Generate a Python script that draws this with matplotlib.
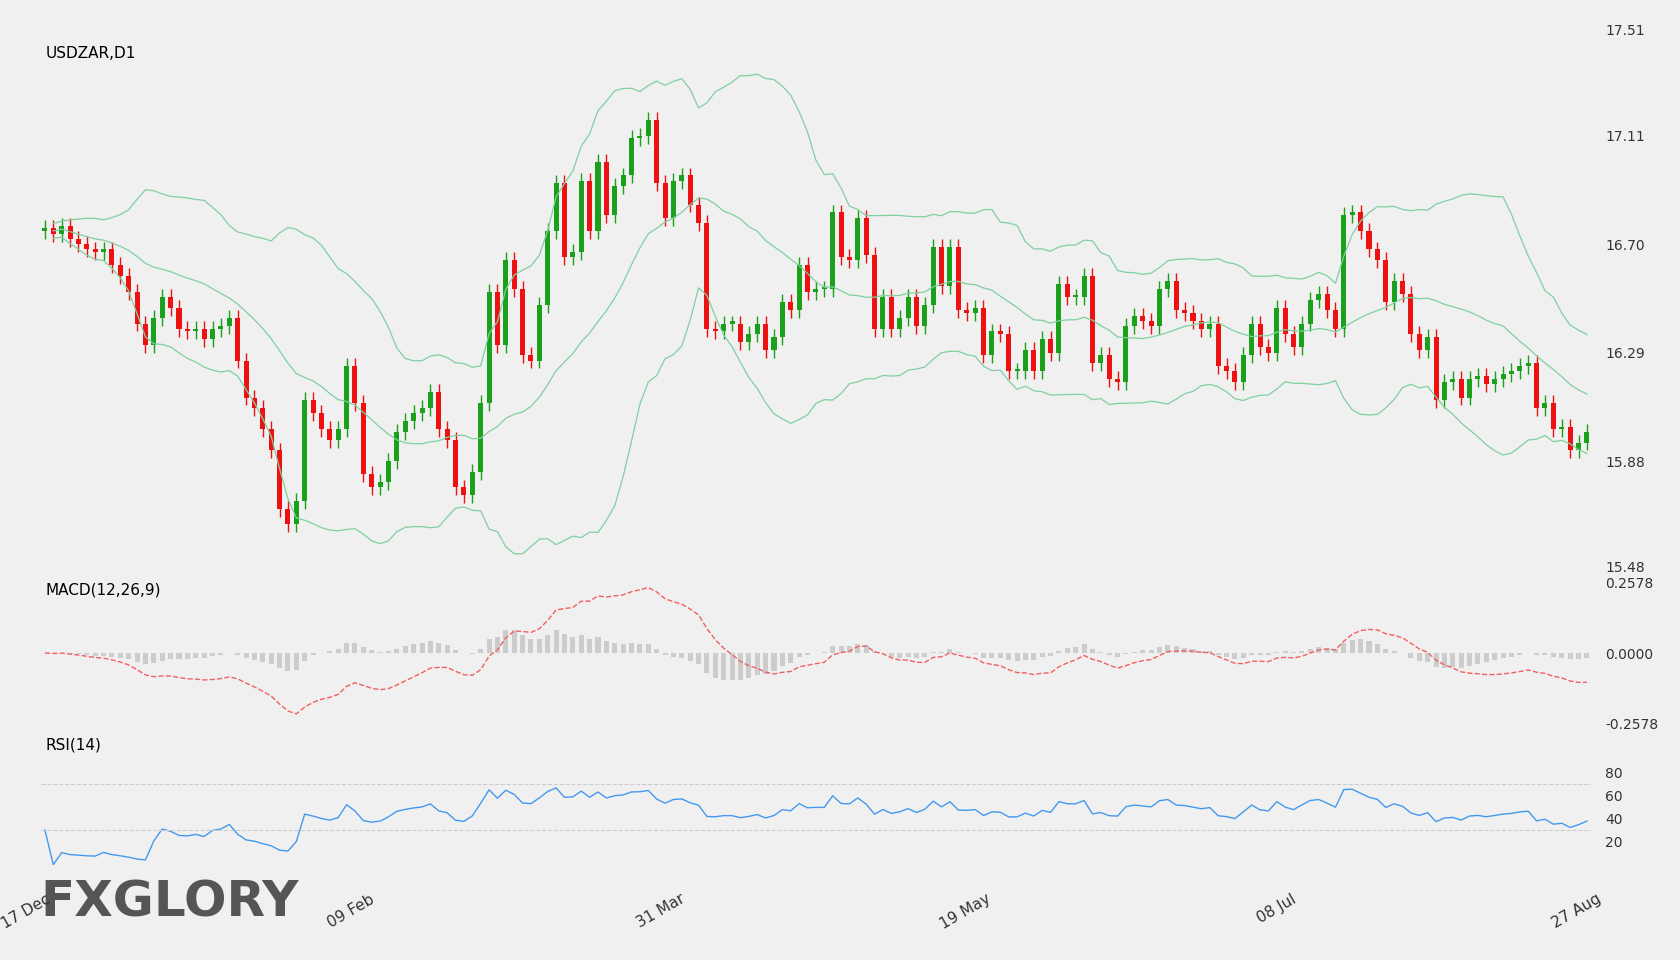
import numpy as np
import pandas as pd
import matplotlib
matplotlib.use("Agg")
import matplotlib.pyplot as plt

# daily closes, 17 Dec -> 27 Aug
closes = [16.76, 16.74, 16.77, 16.72, 16.70, 16.68, 16.67, 16.68, 16.62, 16.58, 16.52, 16.40,
          16.32, 16.42, 16.50, 16.46, 16.38, 16.37, 16.38, 16.34, 16.38, 16.39, 16.42,
          16.26, 16.12, 16.08, 16.00, 15.92, 15.70, 15.64,
          15.73, 16.11, 16.06, 16.00, 15.96, 16.00, 16.24, 16.10, 15.83, 15.78, 15.80,
          15.88, 15.99, 16.03, 16.06, 16.08, 16.14, 16.00, 15.96, 15.78, 15.75, 15.84, 16.10,
          16.52, 16.32, 16.64, 16.53, 16.28, 16.26, 16.47, 16.75, 16.93, 16.65, 16.67, 16.94,
          16.75, 17.01, 16.81, 16.92, 16.96, 17.10, 17.11, 17.17, 16.93, 16.80, 16.94, 16.96,
          16.85, 16.78, 16.38, 16.37, 16.40, 16.40, 16.33, 16.36, 16.40, 16.30, 16.35, 16.48,
          16.45, 16.62, 16.52, 16.53, 16.53, 16.82, 16.65, 16.64, 16.80, 16.66, 16.38, 16.50,
          16.38, 16.42, 16.50, 16.39, 16.47,
          16.69, 16.54, 16.69, 16.45, 16.44, 16.46, 16.28, 16.37, 16.36, 16.22, 16.22, 16.30,
          16.22, 16.34, 16.29, 16.55, 16.50, 16.50, 16.58, 16.25, 16.28, 16.19, 16.18, 16.39,
          16.43, 16.41, 16.39, 16.53, 16.56, 16.45, 16.44, 16.41, 16.38, 16.40, 16.24, 16.22,
          16.18, 16.28, 16.40, 16.31, 16.29, 16.46, 16.36, 16.31, 16.40, 16.49, 16.51, 16.45,
          16.38, 16.81, 16.82, 16.75, 16.68, 16.64, 16.48, 16.56, 16.51, 16.36, 16.30, 16.35,
          16.11, 16.18, 16.19, 16.12,
          16.19, 16.20, 16.17, 16.19, 16.21, 16.22, 16.24, 16.25, 16.08, 16.10, 16.00, 16.01,
          15.92, 15.95, 15.99]
first_open = 16.75
date_labels = ["17 Dec", "09 Feb", "31 Mar", "19 May", "08 Jul", "27 Aug"]
date_px = [38, 340, 630, 915, 1200, 1485]
price_ticks = [17.51, 17.11, 16.70, 16.29, 15.88, 15.48]

c = pd.Series(closes)
o = c.shift(1).fillna(first_open)
n = len(c)
x = np.arange(n)
hi = np.maximum(o, c) + 0.03
lo = np.minimum(o, c) - 0.03

mid = c.rolling(20, min_periods=2).mean()
sd = c.rolling(20, min_periods=2).std()
up, dn = mid + 2 * sd, mid - 2 * sd

ema12 = c.ewm(span=12, adjust=False).mean()
ema26 = c.ewm(span=26, adjust=False).mean()
macd = ema12 - ema26
signal = macd.ewm(span=9, adjust=False).mean()
hist = macd - signal

delta = c.diff()
gain = delta.clip(lower=0).ewm(alpha=1 / 14, adjust=False).mean()
loss = (-delta.clip(upper=0)).ewm(alpha=1 / 14, adjust=False).mean()
rsi = 100 - 100 / (1 + gain / loss.replace(0, 1e-9))
rsi.iloc[0] = 30

# reference measured on a 1568x896 view
PW, PH = 1568, 896
bg = "#f0f0f0"
fig = plt.figure(figsize=(16.8, 9.6), dpi=100, facecolor=bg)
L, W = 38 / PW, 1447 / PW
ax = fig.add_axes([L, 1 - 529 / PH, W, 501 / PH])
axm = fig.add_axes([L, 1 - 675 / PH, W, 131 / PH])
axr = fig.add_axes([L, 1 - 807 / PH, W, 108 / PH])
for a in (ax, axm, axr):
    a.set_facecolor(bg)
    for s in a.spines.values():
        s.set_visible(False)
    a.set_xlim(-0.5, n - 0.5)
    a.yaxis.tick_right()
    a.tick_params(length=0, labelsize=10, colors="#333333", pad=10)
    a.set_xticks([])

# logo
fig.text(38 / PW, 1 - 855 / PH, "FXGLORY", fontsize=36, fontweight="bold", color="#555555")

# candles
col = np.where(c >= o, "#1aa01a", "#ee1111")
ax.vlines(x, lo, hi, colors=col, lw=1)
ax.bar(x, (c - o).abs().clip(lower=0.008), bottom=np.minimum(o, c), width=0.6, color=col)
for band in (up, mid, dn):
    ax.plot(x, band, color="#7fd0a0", lw=0.9)
ax.set_ylim(15.48, 17.51)
ax.set_yticks(price_ticks)
ax.set_yticklabels([f"{v:.2f}" for v in price_ticks])
ax.text(0.003, 0.97, "USDZAR,D1", transform=ax.transAxes, fontsize=11, va="top")

# MACD
axm.bar(x, hist, width=0.6, color="#cccccc")
axm.plot(x, macd, color="#f06060", lw=1, ls="--")
axm.set_ylim(-0.2578, 0.2578)
axm.set_yticks([0.2578, 0.0, -0.2578])
axm.set_yticklabels(["0.2578", "0.0000", "-0.2578"])
axm.text(0.003, 1.0, "MACD(12,26,9)", transform=axm.transAxes, fontsize=11, va="top")

# RSI
axr.plot(x, rsi, color="#4499ee", lw=1)
for lvl in (70, 30):
    axr.axhline(lvl, color="#cccccc", lw=0.8, ls="--")
axr.set_ylim(0, 100)
axr.set_yticks([80, 60, 40, 20])
axr.text(0.003, 1.1, "RSI(14)", transform=axr.transAxes, fontsize=11, va="top")

# date labels
for lab, px in zip(date_labels, date_px):
    fig.text((px + 12) / PW, 1 - 832 / PH, lab, rotation=30, ha="right", va="top",
             fontsize=11, color="#333333")

fig.savefig("out.png", dpi=100, facecolor=bg)
